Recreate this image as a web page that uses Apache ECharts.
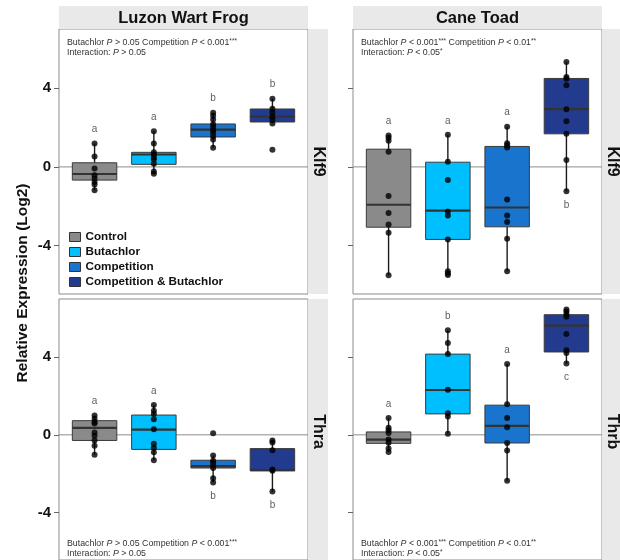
<!DOCTYPE html>
<html>
<head>
<meta charset="utf-8">
<script src="https://cdn.jsdelivr.net/npm/echarts@6/dist/echarts.min.js"></script>
<style>
html,body{margin:0;padding:0;background:#fff;}
#chart{width:620px;height:560px;}
</style>
</head>
<body>
<div id="chart"></div>
<script>
// ---------------- DATA ----------------
const groups = ['Control', 'Butachlor', 'Competition', 'Competition & Butachlor'];
const speciesNames = ['Luzon Wart Frog', 'Cane Toad'];
const geneNamesLeft = ['Klf9', 'Thra'];
const geneNamesRight = ['Klf9', 'Thrb'];
const yTickValues = [-4, 0, 4];

// box stats per group: [lower whisker, Q1, median, Q3, upper whisker]
const lwfKlf9Stats = [
  [-1.19, -0.67, -0.36, 0.21, 1.19],
  [-0.35, 0.13, 0.63, 0.74, 1.81],
  [0.97, 1.52, 1.89, 2.18, 2.75],
  [2.21, 2.28, 2.55, 2.94, 3.46]
];
const lwfKlf9Points = [
  [1.19, 0.53, -0.08, -0.42, -0.59, -0.76, -0.89, -1.19],
  [1.81, 1.19, 0.75, 0.63, 0.48, 0.38, 0.16, -0.23, -0.35],
  [2.75, 2.60, 2.41, 2.16, 2.02, 1.87, 1.74, 1.57, 1.39, 0.97],
  [3.46, 2.95, 2.75, 2.53, 2.40, 2.21, 0.87]
];
const lwfKlf9Letters = ['a', 'a', 'b', 'b'];
const lwfKlf9LetterSide = ['up', 'up', 'up', 'up'];

const ctKlf9Stats = [
  [-5.50, -3.06, -1.92, 0.90, 1.60],
  [-5.49, -3.68, -2.22, 0.24, 1.63],
  [-5.29, -3.04, -2.06, 1.04, 2.04],
  [-1.24, 1.68, 2.93, 4.49, 5.32]
];
const ctKlf9Points = [
  [1.60, 1.48, 1.33, 0.77, -1.48, -2.34, -2.92, -3.34, -5.50],
  [1.63, 0.26, -0.67, -2.26, -2.46, -3.68, -5.29, -5.41, -5.49],
  [2.04, 1.20, 1.10, 0.98, -1.65, -2.46, -2.80, -3.65, -5.29],
  [5.32, 4.56, 4.47, 4.15, 2.93, 2.32, 1.68, 0.35, -1.24]
];
const ctKlf9Letters = ['a', 'a', 'a', 'b'];
const ctKlf9LetterSide = ['up', 'up', 'up', 'down'];

const lwfThraStats = [
  [-1.03, -0.29, 0.36, 0.73, 1.00],
  [-1.31, -0.75, 0.27, 1.02, 1.54],
  [-2.46, -1.71, -1.61, -1.31, -1.06],
  [-2.92, -1.85, -1.82, -0.71, -0.29]
];
const lwfThraPoints = [
  [1.00, 0.83, 0.66, 0.59, 0.12, -0.05, -0.29, -0.56, -1.03],
  [1.54, 1.24, 1.07, 0.80, 0.29, -0.46, -0.66, -0.90, -1.31],
  [0.08, -1.06, -1.34, -1.44, -1.56, -1.71, -2.24, -2.46],
  [-0.29, -0.39, -0.80, -1.79, -1.85, -2.92]
];
const lwfThraLetters = ['a', 'a', 'b', 'b'];
const lwfThraLetterSide = ['up', 'up', 'down', 'down'];

const ctThrbStats = [
  [-0.88, -0.44, -0.25, 0.15, 0.87],
  [0.05, 1.08, 2.31, 4.16, 5.39],
  [-2.37, -0.42, 0.46, 1.53, 3.65],
  [3.68, 4.27, 5.63, 6.19, 6.46]
];
const ctThrbPoints = [
  [0.87, 0.36, 0.24, 0.10, -0.24, -0.41, -0.71, -0.88],
  [5.39, 4.73, 4.16, 2.32, 1.11, 0.94, 0.05],
  [3.65, 1.58, 0.87, 0.39, -0.42, -0.81, -2.37],
  [6.46, 6.36, 6.22, 6.08, 5.20, 4.36, 4.22, 3.68]
];
const ctThrbLetters = ['a', 'b', 'a', 'c'];
const ctThrbLetterSide = ['up', 'up', 'up', 'down'];

// ---------------- STYLE / LAYOUT ----------------
const FONT = '"Liberation Sans", Arial, sans-serif';
const groupColors = ['#8a8a8a', '#00bfff', '#1874cd', '#223b8f'];
const X_MIN = 0.4, X_MAX = 4.6, BOX_W = 0.75;
const Y_MIN = -6.45, Y_MAX = 7.0;
const PANEL_W = 249, PANEL_H = 265;
const COL_X = [59, 353];
const ROW_Y = [29, 299];
const STRIP_FILL = '#e9e9e9';

const panels = [
  {row: 0, col: 0, stats: lwfKlf9Stats, points: lwfKlf9Points, letters: lwfKlf9Letters, side: lwfKlf9LetterSide,
   annot: ['{n|Butachlor }{i|P}{n| > 0.05 Competition }{i|P}{n| < 0.001}{s|***}', '{n|Interaction: }{i|P}{n| > 0.05}'], annotPos: 'top'},
  {row: 0, col: 1, stats: ctKlf9Stats, points: ctKlf9Points, letters: ctKlf9Letters, side: ctKlf9LetterSide,
   annot: ['{n|Butachlor }{i|P}{n| < 0.001}{s|***}{n| Competition }{i|P}{n| < 0.01}{s|**}', '{n|Interaction: }{i|P}{n| < 0.05}{s|*}'], annotPos: 'top'},
  {row: 1, col: 0, stats: lwfThraStats, points: lwfThraPoints, letters: lwfThraLetters, side: lwfThraLetterSide,
   annot: ['{n|Butachlor }{i|P}{n| > 0.05 Competition }{i|P}{n| < 0.001}{s|***}', '{n|Interaction: }{i|P}{n| > 0.05}'], annotPos: 'bottom'},
  {row: 1, col: 1, stats: ctThrbStats, points: ctThrbPoints, letters: ctThrbLetters, side: ctThrbLetterSide,
   annot: ['{n|Butachlor }{i|P}{n| < 0.001}{s|***}{n| Competition }{i|P}{n| < 0.01}{s|**}', '{n|Interaction: }{i|P}{n| < 0.05}{s|*}'], annotPos: 'bottom'}
];

function renderBox(params, api) {
  const x = api.value(0);
  const lo = api.coord([x, api.value(1)]);
  const q1 = api.coord([x, api.value(2)]);
  const md = api.coord([x, api.value(3)]);
  const q3 = api.coord([x, api.value(4)]);
  const hi = api.coord([x, api.value(5)]);
  const hw = api.size([BOX_W, 0])[0] / 2;
  return {
    type: 'group',
    children: [
      {type: 'line', shape: {x1: lo[0], y1: lo[1], x2: q1[0], y2: q1[1]}, style: {stroke: '#1a1a1a', lineWidth: 1.4}},
      {type: 'line', shape: {x1: q3[0], y1: q3[1], x2: hi[0], y2: hi[1]}, style: {stroke: '#1a1a1a', lineWidth: 1.4}},
      {type: 'rect', shape: {x: q3[0] - hw, y: q3[1], width: 2 * hw, height: q1[1] - q3[1]},
       style: {fill: api.visual('color'), stroke: '#3a3a3a', lineWidth: 1}},
      {type: 'line', shape: {x1: md[0] - hw, y1: md[1], x2: md[0] + hw, y2: md[1]}, style: {stroke: '#333', lineWidth: 2.2}}
    ]
  };
}

const grids = [], xAxes = [], yAxes = [], series = [], graphics = [];

panels.forEach((p, g) => {
  const left = COL_X[p.col], top = ROW_Y[p.row];
  grids.push({left: left, top: top, width: PANEL_W, height: PANEL_H, show: true,
    borderColor: '#8c8c8c', borderWidth: 1, backgroundColor: '#fff', containLabel: false});
  xAxes.push({type: 'value', gridIndex: g, min: X_MIN, max: X_MAX, show: false});
  yAxes.push({type: 'value', gridIndex: g, min: Y_MIN, max: Y_MAX,
    axisLine: {show: false}, splitLine: {show: false},
    axisTick: {show: true, customValues: yTickValues, length: 5, lineStyle: {color: '#666'}},
    axisLabel: {show: p.col === 0, customValues: yTickValues, fontSize: 15, fontWeight: 'bold',
      color: '#111', fontFamily: FONT, margin: 8}});

  // zero reference line
  series.push({type: 'line', xAxisIndex: g, yAxisIndex: g, data: [[X_MIN, 0], [X_MAX, 0]],
    symbol: 'none', silent: true, z: 1, lineStyle: {color: '#8c8c8c', width: 1}});

  // boxes
  groups.forEach((name, i) => {
    series.push({type: 'custom', name: name, xAxisIndex: g, yAxisIndex: g, z: 2,
      itemStyle: {color: groupColors[i], borderColor: '#333', borderWidth: 1},
      encode: {x: 0, y: [1, 2, 3, 4, 5]},
      renderItem: renderBox,
      data: [[i + 1].concat(p.stats[i])]});
  });

  // points
  const pts = [];
  p.points.forEach((arr, i) => arr.forEach(v => pts.push([i + 1, v])));
  series.push({type: 'scatter', xAxisIndex: g, yAxisIndex: g, z: 3, symbolSize: 6,
    itemStyle: {color: '#000'}, data: pts, silent: true});

  // letters
  const lets = p.letters.map((L, i) => {
    const up = p.side[i] === 'up';
    const anchor = up ? Math.max(...p.points[i]) : Math.min(...p.points[i]);
    return {value: [i + 1, anchor], label: {formatter: L, position: up ? 'top' : 'bottom'}};
  });
  series.push({type: 'scatter', xAxisIndex: g, yAxisIndex: g, z: 3, symbolSize: 0, silent: true,
    label: {show: true, fontSize: 10, color: '#333', fontFamily: FONT, distance: 9},
    data: lets});

  // annotation
  const ay = p.annotPos === 'top' ? top + 9 : top + 240;
  graphics.push({type: 'text', x: left + 8, y: ay, z: 50,
    style: {text: p.annot.join('\n'), fontFamily: FONT, fontSize: 9, lineHeight: 10, fill: '#333',
      rich: {
        n: {fontSize: 8.8, fontFamily: FONT, fill: '#333', lineHeight: 10},
        i: {fontSize: 8.8, fontFamily: FONT, fontStyle: 'italic', fill: '#333', lineHeight: 10},
        s: {fontSize: 6.5, fontFamily: FONT, fill: '#333', verticalAlign: 'top', lineHeight: 10}
      }}});
});

// top strips
speciesNames.forEach((s, c) => {
  graphics.push({type: 'rect', shape: {x: COL_X[c], y: 6, width: PANEL_W, height: 23}, style: {fill: STRIP_FILL}, z: 0});
  graphics.push({type: 'text', x: COL_X[c] + PANEL_W / 2, y: 18.5, z: 10,
    style: {text: s, fontFamily: FONT, fontSize: 16.5, fontWeight: 'bold', fill: '#111', align: 'center', verticalAlign: 'middle'}});
});
// right strips
[geneNamesLeft, geneNamesRight].forEach((names, c) => {
  names.forEach((gname, r) => {
    const sx = COL_X[c] + PANEL_W;
    graphics.push({type: 'rect', shape: {x: sx, y: ROW_Y[r], width: 20, height: PANEL_H}, style: {fill: STRIP_FILL}, z: 0});
    graphics.push({type: 'text', x: sx + 10, y: ROW_Y[r] + PANEL_H / 2, rotation: -Math.PI / 2, z: 10,
      style: {text: gname, fontFamily: FONT, fontSize: 16, fontWeight: 'bold', fill: '#111', align: 'center', verticalAlign: 'middle'}});
  });
});
// y-axis title
graphics.push({type: 'text', x: 23, y: 283, rotation: Math.PI / 2, z: 10,
  style: {text: 'Relative Expression (Log2)', fontFamily: FONT, fontSize: 15.5, fontWeight: 'bold', fill: '#111', align: 'center', verticalAlign: 'middle'}});

const chart = echarts.init(document.getElementById('chart'), null, {renderer: 'canvas'});
chart.setOption({
  backgroundColor: '#fff',
  animation: false,
  grid: grids,
  xAxis: xAxes,
  yAxis: yAxes,
  legend: {
    data: groups, orient: 'vertical', left: 69, top: 231, icon: 'rect',
    itemWidth: 11, itemHeight: 9, itemGap: 3, padding: 0,
    itemStyle: {borderColor: '#333', borderWidth: 1},
    textStyle: {fontSize: 11.7, fontWeight: 'bold', color: '#111', fontFamily: FONT, lineHeight: 11},
    selectedMode: false
  },
  graphic: graphics,
  series: series
});
</script>
</body>
</html>
